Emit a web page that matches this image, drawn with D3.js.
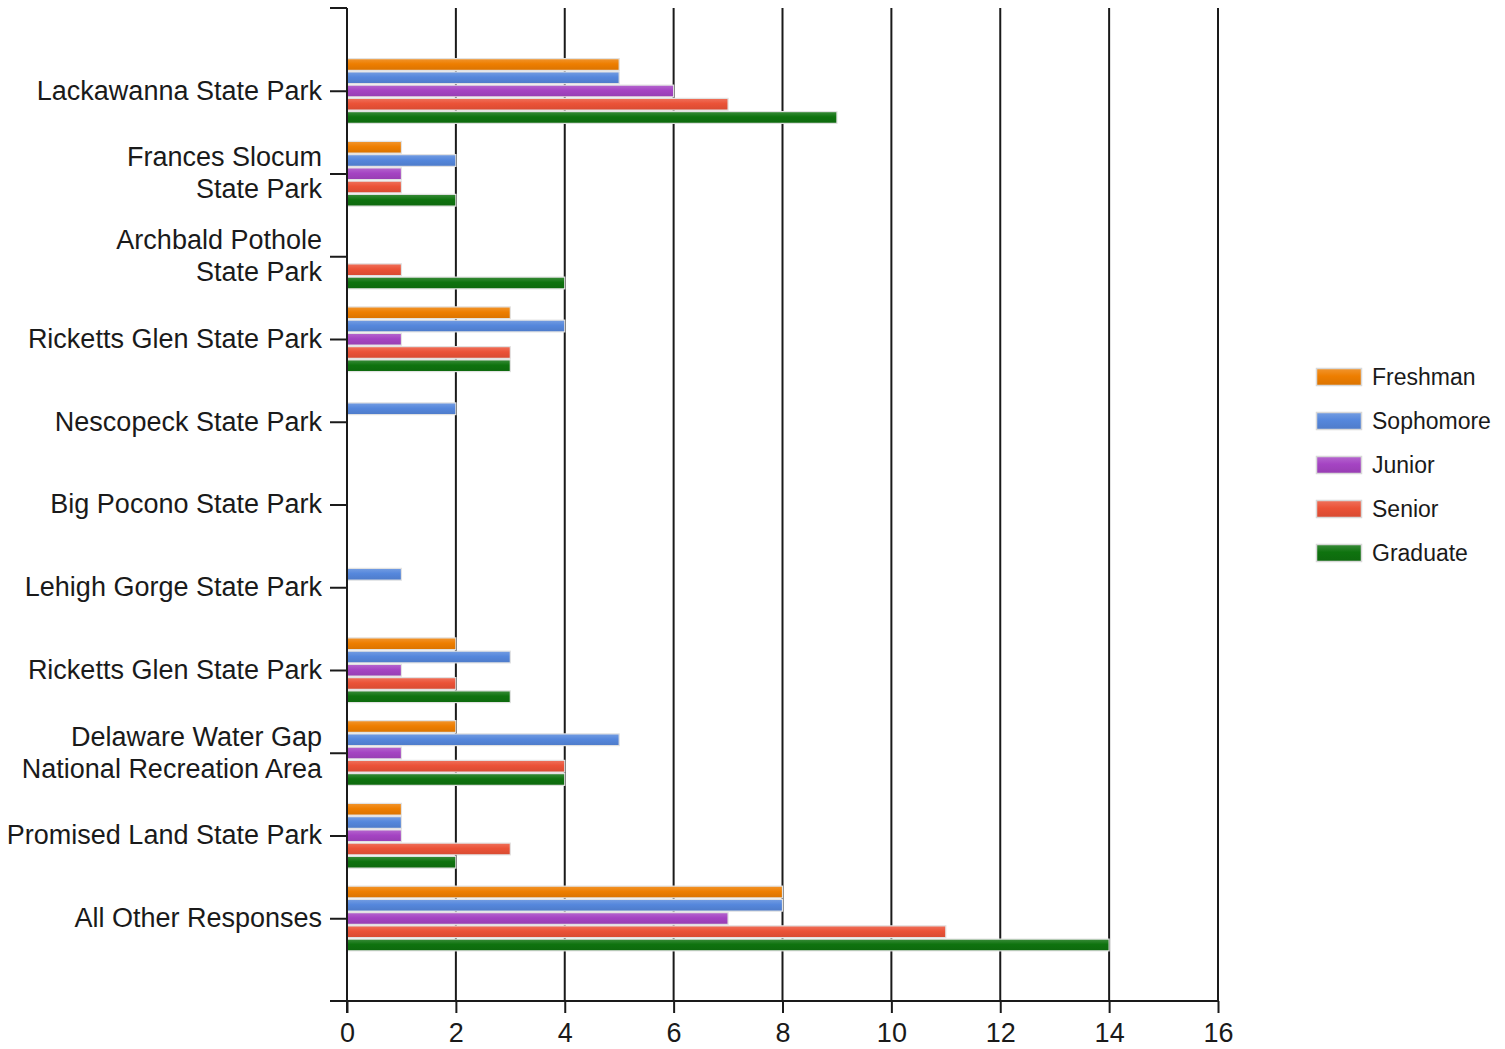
<!DOCTYPE html>
<html>
<head>
<meta charset="utf-8">
<script src="https://cdn.jsdelivr.net/npm/d3@7"></script>
<style>
html,body{margin:0;padding:0;background:#fff;}
svg{display:block;}
text{font-family:"Liberation Sans",Arial,sans-serif;fill:#1a1a1a;}
</style>
</head>
<body>
<svg id="chart" width="1505" height="1049"></svg>
<script>
const categories = [
  "Lackawanna State Park",
  "Frances Slocum|State Park",
  "Archbald Pothole|State Park",
  "Ricketts Glen State Park",
  "Nescopeck State Park",
  "Big Pocono State Park",
  "Lehigh Gorge State Park",
  "Ricketts Glen State Park ",
  "Delaware Water Gap|National Recreation Area",
  "Promised Land State Park",
  "All Other Responses"
];
const seriesNames = ["Freshman","Sophomore","Junior","Senior","Graduate"];
const freshman  = [5,1,0,3,0,0,0,2,2,1,8];
const sophomore = [5,2,0,4,2,0,1,3,5,1,8];
const junior    = [6,1,0,1,0,0,0,1,1,1,7];
const senior    = [7,1,1,3,0,0,0,2,4,3,11];
const graduate  = [9,2,4,3,0,0,0,3,4,2,14];
const xTicks = [0,2,4,6,8,10,12,14,16];
const colors = ["#EE7E00","#5587DC","#A544C3","#EB5237","#0F730F"];

const seriesValues = [freshman, sophomore, junior, senior, graduate];

const svg = d3.select("#chart");
const pL = 347, pR = 1218, pT = 8, pB = 1001;

const x = d3.scaleLinear().domain([0,16]).range([pL,pR]);
const y0 = d3.scaleBand().domain(categories).range([pT,pB]).paddingInner(0.2).paddingOuter(0.6);
const y1 = d3.scaleBand().domain(seriesNames).range([0,y0.bandwidth()]).padding(0);

// gradients
const defs = svg.append("defs");
colors.forEach((c,i)=>{
  const g = defs.append("linearGradient").attr("id","g"+i).attr("x1",0).attr("y1",0).attr("x2",0).attr("y2",1);
  const base = d3.color(c);
  g.append("stop").attr("offset","0%").attr("stop-color", d3.interpolateRgb(c,"#fff")(0.18));
  g.append("stop").attr("offset","45%").attr("stop-color", c);
  g.append("stop").attr("offset","100%").attr("stop-color", base.darker(0.25));
});

// gridlines
svg.append("g").selectAll("line").data(xTicks.filter(d=>d>0)).join("line")
  .attr("x1",d=>x(d)).attr("x2",d=>x(d)).attr("y1",pT).attr("y2",pB)
  .attr("stroke","#1a1a1a").attr("stroke-width",2);

// bars
const groups = svg.append("g").selectAll("g").data(categories).join("g")
  .attr("transform",d=>`translate(0,${y0(d)})`);
groups.selectAll("rect").data((d,ci)=>seriesNames.map((s,si)=>({s,si,v:seriesValues[si][ci]})).filter(e=>e.v>0))
  .join("rect")
  .attr("x",x(0))
  .attr("y",e=>y1(e.s)+1)
  .attr("width",e=>x(e.v)-x(0))
  .attr("height",y1.bandwidth()-1.5)
  .attr("fill",e=>`url(#g${e.si})`)
  .attr("stroke","#e2e2e2").attr("stroke-width",1.2);

// x axis
const xAxis = d3.axisBottom(x).tickValues(xTicks).tickSize(12).tickPadding(10).tickFormat(d3.format("d"));
const gx = svg.append("g").attr("transform",`translate(0,${pB})`).call(xAxis);
gx.select(".domain").remove();
gx.append("line").attr("x1",330).attr("x2",pR).attr("y1",0).attr("y2",0).attr("stroke","#1a1a1a").attr("stroke-width",2);
gx.selectAll(".tick line").attr("stroke","#1a1a1a").attr("stroke-width",2);
gx.selectAll(".tick text").attr("font-size",27).attr("font-family","'Liberation Sans',Arial,sans-serif").attr("fill","#1a1a1a");

// y axis
const yp = d3.scalePoint().domain(categories).range([pT,pB]).padding(1);
const yAxis = d3.axisLeft(yp).tickSize(17).tickPadding(8).tickFormat("");
const gy = svg.append("g").attr("transform",`translate(${pL},0)`).call(yAxis);
gy.select(".domain").remove();
gy.append("line").attr("x1",0).attr("x2",0).attr("y1",pT).attr("y2",pB+12).attr("stroke","#1a1a1a").attr("stroke-width",2);
gy.append("line").attr("x1",-17).attr("x2",0).attr("y1",pT).attr("y2",pT).attr("stroke","#1a1a1a").attr("stroke-width",2);
gy.selectAll(".tick line").attr("stroke","#1a1a1a").attr("stroke-width",2);
gy.selectAll(".tick").each(function(d){
  const lines = d.trim().split("|");
  const t = d3.select(this).append("text").attr("x",-25).attr("text-anchor","end")
    .attr("font-size",27);
  const lh = 32;
  lines.forEach((ln,i)=>{
    t.append("tspan").attr("x",-25).attr("y",(i-(lines.length-1)/2)*lh - 1).attr("dy","0.35em").text(ln);
  });
});

// legend
const legend = svg.append("g").attr("transform","translate(1316,368)");
const li = legend.selectAll("g").data(seriesNames).join("g").attr("transform",(d,i)=>`translate(0,${i*44})`);
li.append("rect").attr("x",0.5).attr("y",0.5).attr("width",45).attr("height",17)
  .attr("fill",(d,i)=>`url(#g${i})`).attr("stroke","#d8d8d8").attr("stroke-width",1.5);
li.append("text").attr("x",56).attr("y",9).attr("dy","0.35em").attr("font-size",23).text(d=>d);
</script>
</body>
</html>
